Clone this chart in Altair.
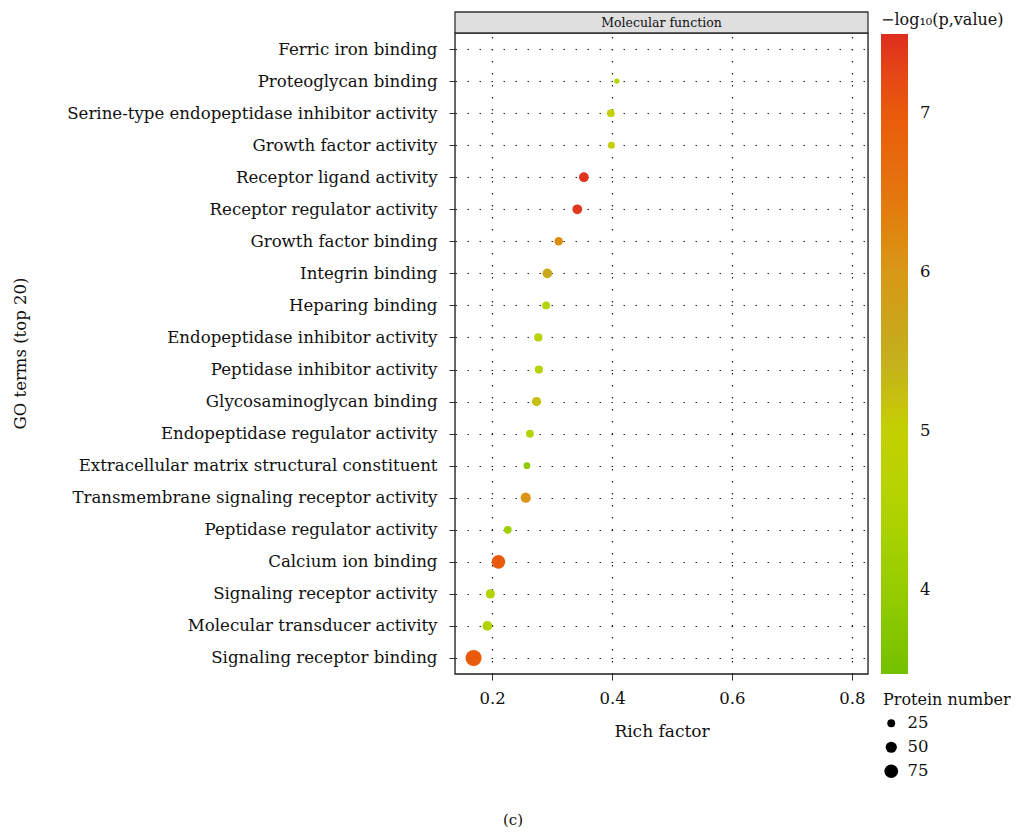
import altair as alt
import pandas as pd

terms = [
    "Ferric iron binding",
    "Proteoglycan binding",
    "Serine-type endopeptidase inhibitor activity",
    "Growth factor activity",
    "Receptor ligand activity",
    "Receptor regulator activity",
    "Growth factor binding",
    "Integrin binding",
    "Heparing binding",
    "Endopeptidase inhibitor activity",
    "Peptidase inhibitor activity",
    "Glycosaminoglycan binding",
    "Endopeptidase regulator activity",
    "Extracellular matrix structural constituent",
    "Transmembrane signaling receptor activity",
    "Peptidase regulator activity",
    "Calcium ion binding",
    "Signaling receptor activity",
    "Molecular transducer activity",
    "Signaling receptor binding",
]
rich_factor = [None, 0.408, 0.398, 0.399, 0.353, 0.342, 0.311, 0.292, 0.290, 0.277,
               0.278, 0.274, 0.263, 0.258, 0.256, 0.226, 0.2105, 0.197, 0.192, 0.169]
neg_log10_p = [None, 4.5, 5.0, 5.0, 7.45, 7.4, 6.15, 5.6, 4.6, 4.8,
               4.7, 5.2, 4.6, 3.9, 6.05, 4.2, 7.0, 4.6, 4.5, 7.0]
protein_number = [None, 11, 24, 20, 38, 38, 29, 38, 24, 27,
                  27, 34, 24, 18, 42, 24, 74, 34, 38, 103]

color_stops = [3.47, 4.0, 4.5, 5.0, 5.5, 6.0, 6.5, 7.0, 7.5]
color_values = ["#74c000", "#96cc00", "#b0d400", "#c4d000", "#c4ac20",
                "#d89818", "#e47410", "#ea5a0c", "#de2e1e"]

df = pd.DataFrame({"term": terms, "rich": rich_factor,
                   "p": neg_log10_p, "n": protein_number}).dropna()

FONT = "DejaVu Serif"
W, H = 413, 641

points = alt.Chart(df).mark_circle(opacity=1).encode(
    x=alt.X("rich:Q", title="Rich factor",
            scale=alt.Scale(domain=[0.138, 0.827], nice=False, zero=False),
            axis=alt.Axis(values=[0.2, 0.4, 0.6, 0.8], format=".1f",
                          grid=True, gridColor="#222", gridDash=[1.5, 10.5],
                          gridWidth=1.2, domain=False, tickColor="#333",
                          tickSize=6, labelPadding=10, labelFontSize=16.5,
                          titleFontSize=17, titlePadding=17,
                          titleFontWeight="normal")),
    y=alt.Y("term:N", title=None,
            scale=alt.Scale(domain=terms, paddingOuter=0.6),
            axis=alt.Axis(grid=True, gridColor="#222", gridDash=[1.5, 10.5],
                          gridWidth=1.2, domain=False, tickColor="#333",
                          tickSize=6, labelPadding=12, labelFontSize=16.6,
                          labelLimit=500)),
    color=alt.Color("p:Q",
                    scale=alt.Scale(domain=color_stops, range=color_values),
                    legend=alt.Legend(title="−log₁₀(p,value)", orient="none",
                                      legendX=426, legendY=-21,
                                      gradientLength=640, gradientThickness=27,
                                      values=[4, 5, 6, 7], format="d",
                                      labelFontSize=16.5,
                                      labelOffset=12, titleFontSize=16,
                                      titleFontWeight="normal", titlePadding=6,
                                      gradientStrokeWidth=0)),
    size=alt.Size("n:Q", title="Protein number",
                  scale=alt.Scale(domain=[0, 110], range=[0, 275]),
                  legend=alt.Legend(orient="none", legendX=428, legendY=659,
                                    values=[25, 50, 75], labelFontSize=16.5,
                                    titleFontSize=16, titleFontWeight="normal",
                                    symbolFillColor="black",
                                    symbolStrokeWidth=0, rowPadding=7,
                                    titlePadding=7, labelOffset=8)),
)

one = pd.DataFrame({"t": ["Molecular function"]})

frame = alt.Chart(one).mark_rect(
    fillOpacity=0, stroke="#222", strokeWidth=1.3
).encode(x=alt.value(0), x2=alt.value(W), y=alt.value(0), y2=alt.value(H))

header_rect = alt.Chart(one).mark_rect(
    fill="#e0dfe0", stroke="#333", strokeWidth=1.3
).encode(x=alt.value(0), x2=alt.value(W), y=alt.value(-21), y2=alt.value(0))

header_text = alt.Chart(one).mark_text(
    font=FONT, fontSize=12.5, color="#111", baseline="middle", align="center"
).encode(text="t:N", x=alt.value(W / 2), y=alt.value(-10))

ytitle = alt.Chart(pd.DataFrame({"t": ["GO terms (top 20)"]})).mark_text(
    font=FONT, fontSize=16.5, color="#111", baseline="middle", align="center",
    angle=270
).encode(text="t:N", x=alt.value(20 - 454), y=alt.value(H / 2))

caption = alt.Chart(pd.DataFrame({"t": ["(c)"]})).mark_text(
    font=FONT, fontSize=15, color="#111", baseline="middle", align="center"
).encode(text="t:N", x=alt.value(512 - 454), y=alt.value(787))

chart = alt.layer(points, frame, header_rect, header_text, ytitle,
                  caption).properties(
    width=W, height=H,
    padding={"top": 3, "left": 5, "right": 0, "bottom": 0},
).configure_view(stroke="#222", strokeWidth=1.3).configure(
    font=FONT
).configure_axis(labelColor="#111", titleColor="#111", labelFont=FONT,
                 titleFont=FONT).configure_legend(labelFont=FONT, titleFont=FONT,
                                                  labelColor="#111",
                                                  titleColor="#111")

chart.save("out.html", embed_options={"renderer": "svg", "actions": False})
